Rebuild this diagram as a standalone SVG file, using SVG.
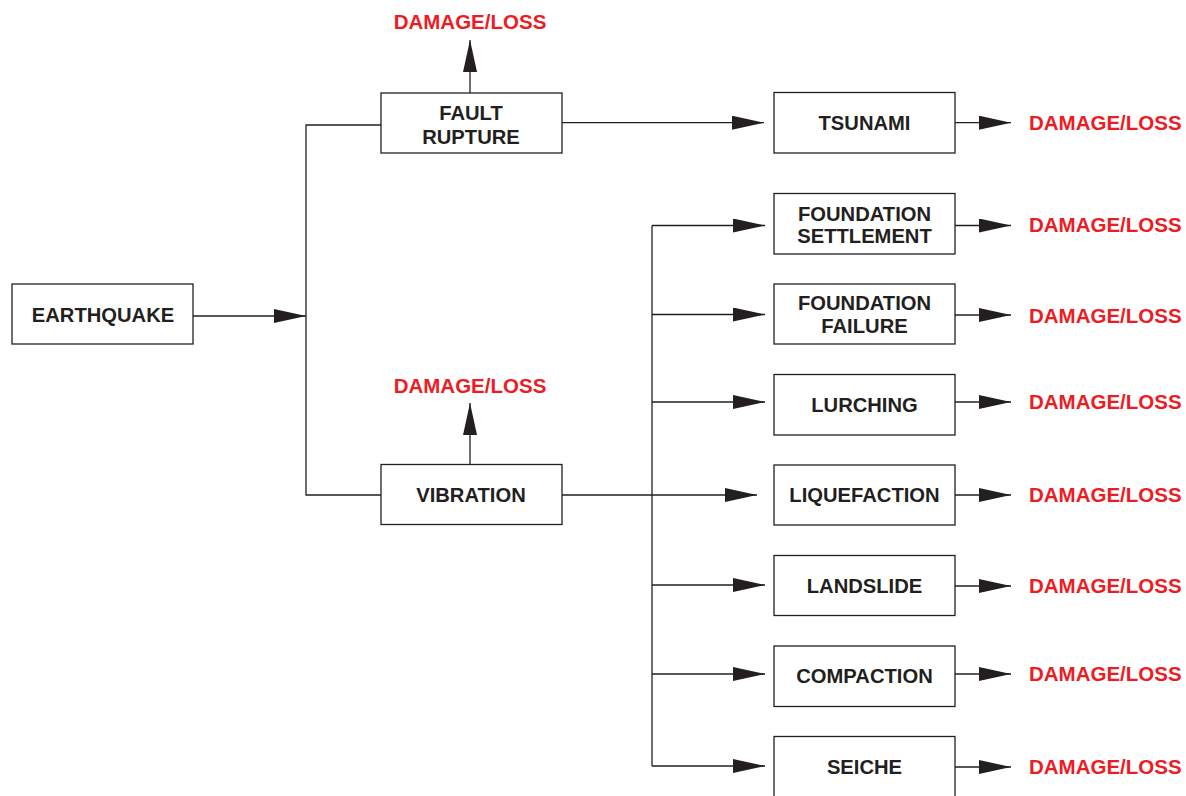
<svg xmlns="http://www.w3.org/2000/svg" width="1186" height="796" viewBox="0 0 1186 796">
<defs>
<style>
.box{fill:#ffffff;stroke:#231f20;stroke-width:1.3}
.t{font-family:"Liberation Sans",Arial,sans-serif;font-weight:bold;font-size:20.2px;fill:#231f20;text-anchor:middle}
.r{font-family:"Liberation Sans",Arial,sans-serif;font-weight:bold;font-size:20.5px;fill:#ed1c24}
.rc{text-anchor:middle}
.ln{fill:none;stroke:#231f20;stroke-width:1.3}
</style>
<marker id="ah" viewBox="0 0 32 14" refX="32" refY="7" markerWidth="32" markerHeight="14" markerUnits="userSpaceOnUse" orient="auto">
<path d="M0,0 L32,7 L0,14 Z" fill="#231f20"/>
</marker>
</defs>
<rect width="1186" height="796" fill="#ffffff"/>

<g id="connectors">
<line class="ln" x1="193" y1="316" x2="306" y2="316" marker-end="url(#ah)"/>
<polyline class="ln" points="381,125 306,125 306,495 381,495"/>
<line class="ln" x1="470" y1="93" x2="470" y2="40" marker-end="url(#ah)"/>
<line class="ln" x1="470" y1="464.5" x2="470" y2="403" marker-end="url(#ah)"/>
<line class="ln" x1="562" y1="122.7" x2="764" y2="122.7" marker-end="url(#ah)"/>
<line class="ln" x1="652" y1="225.5" x2="652" y2="766"/>
<line class="ln" x1="652" y1="225.5" x2="765" y2="225.5" marker-end="url(#ah)"/>
<line class="ln" x1="652" y1="314.5" x2="765" y2="314.5" marker-end="url(#ah)"/>
<line class="ln" x1="652" y1="402" x2="765" y2="402" marker-end="url(#ah)"/>
<line class="ln" x1="562" y1="495" x2="757" y2="495" marker-end="url(#ah)"/>
<line class="ln" x1="652" y1="585" x2="765" y2="585" marker-end="url(#ah)"/>
<line class="ln" x1="652" y1="674" x2="765" y2="674" marker-end="url(#ah)"/>
<line class="ln" x1="652" y1="766" x2="765" y2="766" marker-end="url(#ah)"/>
<line class="ln" x1="955" y1="122.7" x2="1011" y2="122.7" marker-end="url(#ah)"/>
<line class="ln" x1="955" y1="225.5" x2="1011" y2="225.5" marker-end="url(#ah)"/>
<line class="ln" x1="955" y1="315" x2="1011" y2="315" marker-end="url(#ah)"/>
<line class="ln" x1="955" y1="402" x2="1011" y2="402" marker-end="url(#ah)"/>
<line class="ln" x1="955" y1="495" x2="1011" y2="495" marker-end="url(#ah)"/>
<line class="ln" x1="955" y1="586" x2="1011" y2="586" marker-end="url(#ah)"/>
<line class="ln" x1="955" y1="674" x2="1011" y2="674" marker-end="url(#ah)"/>
<line class="ln" x1="955" y1="767" x2="1011" y2="767" marker-end="url(#ah)"/>
</g>

<g id="earthquake">
<rect class="box" x="12" y="284" width="181" height="60"/>
<text class="t" x="103" y="321.5">EARTHQUAKE</text>
</g>
<g id="fault-rupture">
<rect class="box" x="381" y="93" width="181" height="60"/>
<text class="t" x="471" y="120">FAULT</text>
<text class="t" x="471" y="143.5">RUPTURE</text>
</g>
<g id="vibration">
<rect class="box" x="381" y="464.5" width="181" height="60"/>
<text class="t" x="471" y="502">VIBRATION</text>
</g>
<g id="tsunami">
<rect class="box" x="774" y="92.5" width="181" height="60.5"/>
<text class="t" x="864.5" y="130">TSUNAMI</text>
</g>
<g id="foundation-settlement">
<rect class="box" x="774" y="193.5" width="181" height="60.5"/>
<text class="t" x="864.5" y="220.5">FOUNDATION</text>
<text class="t" x="864.5" y="242.5">SETTLEMENT</text>
</g>
<g id="foundation-failure">
<rect class="box" x="774" y="284" width="181" height="60"/>
<text class="t" x="864.5" y="310">FOUNDATION</text>
<text class="t" x="864.5" y="333">FAILURE</text>
</g>
<g id="lurching">
<rect class="box" x="774" y="374.5" width="181" height="60.5"/>
<text class="t" x="864.5" y="411.5">LURCHING</text>
</g>
<g id="liquefaction">
<rect class="box" x="774" y="465" width="181" height="60"/>
<text class="t" x="864.5" y="502">LIQUEFACTION</text>
</g>
<g id="landslide">
<rect class="box" x="774" y="555.5" width="181" height="60"/>
<text class="t" x="864.5" y="592.5">LANDSLIDE</text>
</g>
<g id="compaction">
<rect class="box" x="774" y="646" width="181" height="60.5"/>
<text class="t" x="864.5" y="683">COMPACTION</text>
</g>
<g id="seiche">
<rect class="box" x="774" y="736.5" width="181" height="70"/>
<text class="t" x="864.5" y="773.5">SEICHE</text>
</g>

<g id="damage-labels">
<text class="r rc" x="470" y="28.5">DAMAGE/LOSS</text>
<text class="r rc" x="470" y="393">DAMAGE/LOSS</text>
<text class="r" x="1029" y="129.5">DAMAGE/LOSS</text>
<text class="r" x="1029" y="232">DAMAGE/LOSS</text>
<text class="r" x="1029" y="322.5">DAMAGE/LOSS</text>
<text class="r" x="1029" y="409">DAMAGE/LOSS</text>
<text class="r" x="1029" y="502">DAMAGE/LOSS</text>
<text class="r" x="1029" y="593">DAMAGE/LOSS</text>
<text class="r" x="1029" y="681">DAMAGE/LOSS</text>
<text class="r" x="1029" y="774">DAMAGE/LOSS</text>
</g>
</svg>
